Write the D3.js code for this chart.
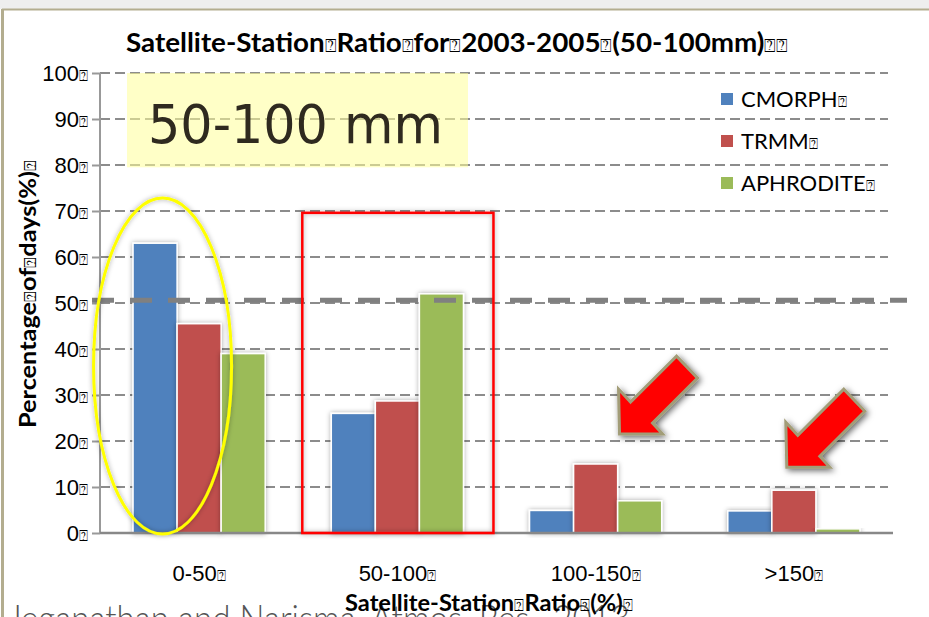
<!DOCTYPE html>
<html>
<head>
<meta charset="utf-8">
<script src="https://cdn.jsdelivr.net/npm/d3@7"></script>
<style>
  body { margin: 0; background: #fff; }
  svg { display: block; font-family: Lato, "Open Sans", sans-serif; }
</style>
</head>
<body>
<div id="chart"></div>
<script>
// data
const categories = ['0-50⍰', '50-100⍰', '100-150⍰', '>150⍰'];
const seriesNames = ['CMORPH⍰', 'TRMM⍰', 'APHRODITE⍰'];
const cmorph = [63, 26, 4.9, 4.8];
const trmm = [45.5, 28.7, 15, 9.3];
const aphrodite = [39, 52, 7, 0.9];
const yTicks = [0, 10, 20, 30, 40, 50, 60, 70, 80, 90, 100];
const refLine = 50.6;

const colors = ['#4f81bd', '#c0504d', '#9bbb59'];
const width = 929, height = 617;
const margin = { top: 73, right: 36, bottom: 84, left: 100 };

const svg = d3.select('#chart').append('svg').attr('width', width).attr('height', height);

const defs = svg.append('defs');
const shadow = defs.append('filter').attr('id', 'shadow')
  .attr('x', '-20%').attr('y', '-20%').attr('width', '140%').attr('height', '140%');
shadow.append('feDropShadow').attr('dx', 0).attr('dy', 0).attr('stdDeviation', 2.5)
  .attr('flood-color', '#000').attr('flood-opacity', 0.35);
const arrowShadow = defs.append('filter').attr('id', 'arrowShadow')
  .attr('x', '-30%').attr('y', '-30%').attr('width', '160%').attr('height', '160%');
arrowShadow.append('feDropShadow').attr('dx', 2).attr('dy', 2).attr('stdDeviation', 3)
  .attr('flood-color', '#000').attr('flood-opacity', 0.6);

// text with the little missing-glyph boxes
function boxText(sel, str) {
  str.split(/(⍰)/).forEach(part => {
    if (!part) return;
    const t = sel.append('tspan').text(part);
    if (part === '⍰') t.style('font-size', '0.7em').style('font-weight', 'normal').style('font-family', 'DejaVu Sans');
  });
  return sel;
}

// slide frame
svg.append('rect').attr('x', 0).attr('y', 0).attr('width', width).attr('height', 9).attr('fill', '#eeeeee');
svg.append('line').attr('x1', 2).attr('x2', width).attr('y1', 9.5).attr('y2', 9.5).attr('stroke', '#b3ad8f').attr('stroke-width', 2);
svg.append('line').attr('x1', 2.5).attr('x2', 2.5).attr('y1', 9).attr('y2', height).attr('stroke', '#b3ad8f').attr('stroke-width', 3);

// footer citation behind the chart (cut off by the page edge)
svg.append('text').attr('x', 8).attr('y', 632)
  .attr('textLength', 622).attr('lengthAdjust', 'spacingAndGlyphs')
  .style('font-size', '38px').style('font-weight', 300).attr('fill', '#555')
  .text('Jeganathan and Narisma, Atmos. Res., 2013');

const x0 = d3.scaleBand().domain(categories)
  .range([margin.left, width - margin.right]).paddingInner(1 / 3).paddingOuter(1 / 6);
const x1 = d3.scaleBand().domain(seriesNames).range([0, x0.bandwidth()]);
const y = d3.scaleLinear().domain([0, 100]).range([height - margin.bottom, margin.top]);

// white plot backdrop over the footer
svg.append('rect').attr('x', 8).attr('y', 12).attr('width', width - 8).attr('height', 591).attr('fill', '#fff');

// grid
svg.append('g').selectAll('line').data(yTicks.filter(d => d > 0)).enter().append('line')
  .attr('x1', margin.left).attr('x2', width - margin.right - 5)
  .attr('y1', d => y(d)).attr('y2', d => y(d))
  .attr('stroke', '#8c8c8c').attr('stroke-width', 2).attr('stroke-dasharray', '10,5');

// highlight box
svg.append('rect').attr('x', 127).attr('y', y(100)).attr('width', 341).attr('height', y(79.5) - y(100))
  .attr('fill', '#ffff99').attr('opacity', 0.55);
svg.append('text').attr('x', 148).attr('y', 143)
  .attr('textLength', 295).attr('lengthAdjust', 'spacingAndGlyphs')
  .style('font-size', '54px').style('font-family', '"DejaVu Sans", sans-serif').style('font-weight', 'normal')
  .attr('fill', '#2f2a1f').text('50-100 mm');

// y axis
const yAxis = d3.axisLeft(y).tickValues(yTicks).tickSize(8).tickFormat(d => d + '⍰');
const gy = svg.append('g').attr('transform', `translate(${margin.left},0)`).call(yAxis);
gy.select('.domain').attr('stroke', '#999').attr('stroke-width', 2).attr('d', `M0,${y(100)}V${y(0)}`);
gy.selectAll('.tick line').attr('stroke', '#999').attr('stroke-width', 2);
gy.selectAll('.tick text').each(function(d) {
  const t = d3.select(this).text(null).attr('x', -12).attr('dy', '0.36em')
    .style('font-size', '22px').attr('fill', '#000');
  boxText(t, d + '⍰');
});

// series rows
const rows = categories.map((c, i) => ({
  cat: c,
  vals: [cmorph[i], trmm[i], aphrodite[i]].map((v, j) => ({ name: seriesNames[j], v: v, j: j }))
}));

const groups = svg.append('g').selectAll('g').data(rows).enter().append('g')
  .attr('transform', d => `translate(${x0(d.cat)},0)`);
groups.selectAll('rect').data(d => d.vals).enter().append('rect')
  .attr('x', d => x1(d.name)).attr('width', x1.bandwidth())
  .attr('y', d => y(d.v)).attr('height', d => y(0) - y(d.v))
  .attr('fill', d => colors[d.j]).attr('stroke', '#fff').attr('stroke-width', 1.5)
  .attr('filter', 'url(#shadow)');

// 50% reference line
svg.append('line').attr('x1', 92).attr('x2', 907).attr('y1', y(refLine)).attr('y2', y(refLine))
  .attr('stroke', '#808080').attr('stroke-width', 5).attr('stroke-dasharray', '22,16');

// x axis line
svg.append('line').attr('x1', margin.left).attr('x2', width - margin.right)
  .attr('y1', y(0)).attr('y2', y(0)).attr('stroke', '#888').attr('stroke-width', 2.5);

// x tick labels
const xAxis = d3.axisBottom(x0).tickSize(0).tickPadding(0);
const gx = svg.append('g').attr('transform', `translate(0,${y(0)})`).call(xAxis);
gx.select('.domain').remove();
gx.selectAll('.tick text').each(function(d) {
  const t = d3.select(this).text(null).attr('y', 48).attr('dy', 0)
    .style('font-size', '22px').attr('fill', '#000');
  boxText(t, d);
});

// annotations: ellipse, rectangle, arrows
svg.append('ellipse')
  .attr('cx', x0(categories[0]) + x1.bandwidth() * 0.67).attr('cy', y(36.3))
  .attr('rx', 69).attr('ry', 168)
  .attr('fill', 'none').attr('stroke', '#ffff00').attr('stroke-width', 3).attr('filter', 'url(#shadow)');
svg.append('rect')
  .attr('x', x0(categories[1]) - 29).attr('y', y(69.6))
  .attr('width', x0.bandwidth() + 59).attr('height', y(0) - y(69.6))
  .attr('fill', 'none').attr('stroke', '#ff0000').attr('stroke-width', 2.5).attr('filter', 'url(#shadow)');

const arrowPts = [[0, 0], [-1, -45], [11, -32], [57, -78], [78, -56], [33, -11], [43, 0]];
[[categories[2], 90, 21.5], [categories[3], 59, 14.3]].forEach(([c, dx, v]) => {
  svg.append('polygon')
    .attr('points', arrowPts.map(p => [p[0] + x0(c) + dx, p[1] + y(v)].join(',')).join(' '))
    .attr('fill', '#ff0000').attr('stroke', '#a29d78').attr('stroke-width', 3)
    .attr('stroke-linejoin', 'miter').attr('filter', 'url(#arrowShadow)');
});

// legend
const legend = svg.append('g').selectAll('g').data(seriesNames).enter().append('g')
  .attr('transform', (d, i) => `translate(721,${93 + i * 42})`);
legend.append('rect').attr('width', 12).attr('height', 12).attr('fill', (d, i) => colors[i]);
legend.append('text').attr('x', 20).attr('y', 6).attr('dy', '0.36em')
  .style('font-size', '22px').attr('fill', '#000')
  .each(function(d) { boxText(d3.select(this), d); });

// titles
boxText(svg.append('text').attr('x', 457).attr('y', 52).attr('text-anchor', 'middle')
  .attr('textLength', 662).attr('lengthAdjust', 'spacingAndGlyphs')
  .style('font-size', '26px').style('font-weight', 'bold'),
  'Satellite-Station⍰Ratio⍰for⍰2003-2005⍰(50-100mm)⍰⍰');
boxText(svg.append('text').attr('x', 489).attr('y', 611).attr('text-anchor', 'middle')
  .attr('textLength', 288).attr('lengthAdjust', 'spacingAndGlyphs')
  .style('font-size', '23px').style('font-weight', 'bold'),
  'Satellite-Station⍰Ratio⍰(%)⍰');
boxText(svg.append('text').attr('transform', 'translate(36,294) rotate(-90)').attr('text-anchor', 'middle')
  .attr('textLength', 268).attr('lengthAdjust', 'spacingAndGlyphs')
  .style('font-size', '23px').style('font-weight', 'bold'),
  'Percentage⍰of⍰days(%)⍰');
</script>
</body>
</html>
